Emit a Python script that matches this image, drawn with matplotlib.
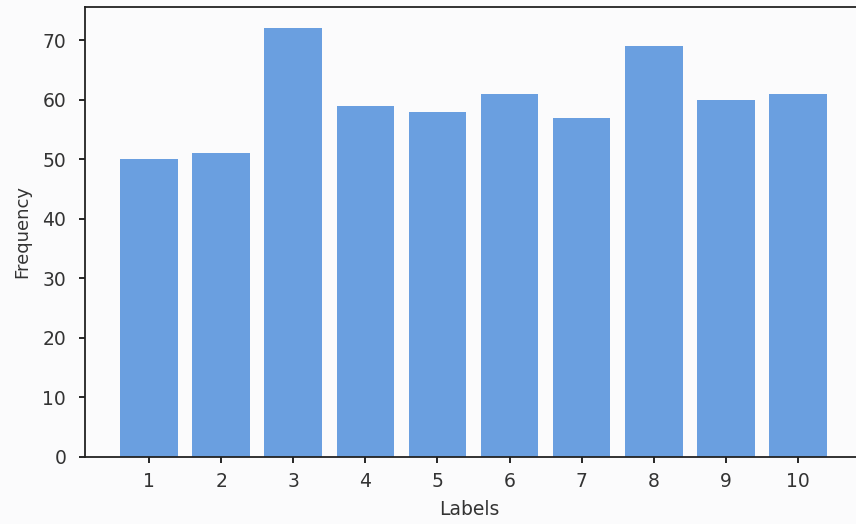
import matplotlib
matplotlib.use("Agg")
import matplotlib.pyplot as plt

labels = [1, 2, 3, 4, 5, 6, 7, 8, 9, 10]
frequency = [50, 51, 72, 59, 58, 61, 57, 69, 60, 61]

W, H = 856, 524
fig = plt.figure(figsize=(W / 100, H / 100), dpi=100)
fig.patch.set_facecolor("#fbfbfc")
left, right, bottom, top = 85, 862, 457, 7
ax = fig.add_axes([left / W, (H - bottom) / H, (right - left) / W, (bottom - top) / H])
ax.set_facecolor("#fbfbfc")
ax.bar(labels, frequency, width=0.8, color="#6a9fe0")
ax.set_xticks(labels)
ax.set_xlabel("Labels", fontsize=13.5, labelpad=8, color="#333333")
ax.xaxis.set_label_coords(0.495, -0.095)
ax.set_ylabel("Frequency", fontsize=13, labelpad=8, color="#333333")
ax.tick_params(axis="x", labelsize=13.5, length=4.5, width=1.2, pad=6, labelcolor="#333333")
ax.tick_params(axis="y", labelsize=13.5, length=4.5, width=1.2, pad=9, labelcolor="#333333")
for s in ax.spines.values():
    s.set_linewidth(1.3)
    s.set_color("#222222")
fig.savefig("out.png", dpi=100, facecolor=fig.get_facecolor())
